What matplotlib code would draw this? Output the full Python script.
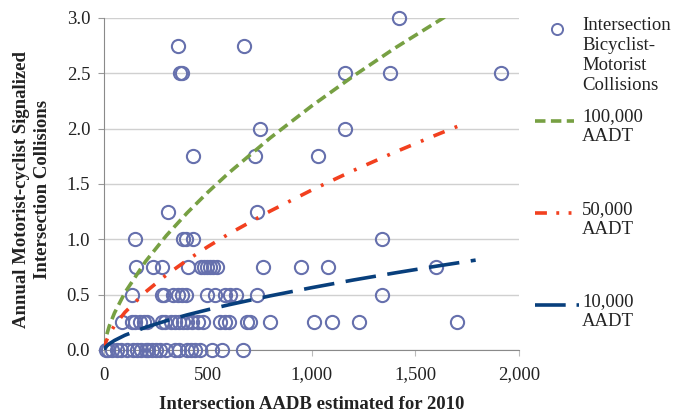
import matplotlib
matplotlib.use("Agg")
import matplotlib.pyplot as plt
from matplotlib.lines import Line2D
from matplotlib.ticker import FuncFormatter

# ---- data ----
pts_x = [1420,
         355, 675,
         365, 375, 1160, 1375, 1910,
         750, 1160,
         430, 725, 1030,
         310, 735,
         150, 380, 395, 430, 1340,
         155, 235, 280, 405, 465, 480, 495, 510, 525, 545, 765, 950, 1080, 1600,
         135, 280, 290, 330, 355, 375, 395, 495, 535, 580, 605, 635, 735, 1340,
         85, 135, 150, 175, 190, 205, 280, 295, 320, 340, 360, 380, 400, 425, 450,
         475, 560, 580, 600, 690, 705, 800, 1010, 1100, 1230, 1700,
         10, 20, 40, 60, 80, 110, 140, 160, 180, 200, 210, 230, 250, 270, 300,
         340, 360, 400, 420, 440, 460, 520, 570, 670]
pts_y = [3.0,
         2.75, 2.75,
         2.5, 2.5, 2.5, 2.5, 2.5,
         2.0, 2.0,
         1.75, 1.75, 1.75,
         1.25, 1.25,
         1.0, 1.0, 1.0, 1.0, 1.0,
         0.75, 0.75, 0.75, 0.75, 0.75, 0.75, 0.75, 0.75, 0.75, 0.75, 0.75, 0.75, 0.75, 0.75,
         0.5, 0.5, 0.5, 0.5, 0.5, 0.5, 0.5, 0.5, 0.5, 0.5, 0.5, 0.5, 0.5, 0.5,
         0.25, 0.25, 0.25, 0.25, 0.25, 0.25, 0.25, 0.25, 0.25, 0.25, 0.25, 0.25, 0.25, 0.25, 0.25,
         0.25, 0.25, 0.25, 0.25, 0.25, 0.25, 0.25, 0.25, 0.25, 0.25, 0.25,
         0, 0, 0, 0, 0, 0, 0, 0, 0, 0, 0, 0, 0, 0, 0,
         0, 0, 0, 0, 0, 0, 0, 0, 0]

aadt100_x = [0, 5, 10, 25, 50, 100, 200, 300, 400, 500, 600, 800, 1000, 1200, 1400, 1660]
aadt100_y = [0, 0.078, 0.121, 0.216, 0.334, 0.517, 0.800, 1.033, 1.238, 1.425, 1.598,
             1.915, 2.204, 2.473, 2.726, 3.03]
aadt50_x = [0, 5, 10, 25, 50, 100, 200, 300, 400, 500, 600, 800, 1000, 1200, 1400, 1600, 1740]
aadt50_y = [0, 0.051, 0.079, 0.141, 0.219, 0.339, 0.524, 0.677, 0.811, 0.933, 1.047,
            1.254, 1.444, 1.620, 1.786, 1.942, 2.048]
aadt10_x = [0, 5, 10, 25, 50, 100, 200, 300, 400, 500, 600, 800, 1000, 1200, 1400, 1600, 1790]
aadt10_y = [0, 0.020, 0.031, 0.055, 0.085, 0.132, 0.204, 0.263, 0.316, 0.363, 0.407,
            0.488, 0.562, 0.631, 0.695, 0.756, 0.811]

x_ticks = [0, 500, 1000, 1500, 2000]
y_ticks = [0.0, 0.5, 1.0, 1.5, 2.0, 2.5, 3.0]

legend_labels = ["Intersection\nBicyclist-\nMotorist\nCollisions",
                 "100,000\nAADT", "50,000\nAADT", "10,000\nAADT"]

# ---- styles ----
plt.rcParams['font.family'] = ['Liberation Serif', 'DejaVu Serif']
MARKER_C = '#6670ad'
GREEN = '#77a043'
RED = '#f2401f'
BLUE = '#083f7c'
LW = 2.6
green_dash = (0, (2.9, 1.5))
red_dash = (0, (3.3, 3.0, 0.8, 3.0))
blue_dash = (0, (8.5, 3.2))
FS = 13.5

fig = plt.figure(figsize=(6.85, 4.16), dpi=100)
ax = fig.add_axes([0.152, 0.159, 0.606, 0.798])

ax.plot(pts_x, pts_y, linestyle='none', marker='o', markersize=9.5,
        markerfacecolor='none', markeredgecolor=MARKER_C, markeredgewidth=1.5,
        clip_on=False, zorder=3)
ax.plot(aadt100_x, aadt100_y, color=GREEN, lw=LW, linestyle=green_dash,
        dash_capstyle='butt', zorder=4)
ax.plot(aadt50_x, aadt50_y, color=RED, lw=LW, linestyle=red_dash,
        dash_capstyle='butt', zorder=4)
ax.plot(aadt10_x, aadt10_y, color=BLUE, lw=LW, linestyle=blue_dash,
        dash_capstyle='butt', zorder=4)

ax.set_xlim(0, 2000)
ax.set_ylim(0, 3.0)
ax.set_xticks(x_ticks)
ax.set_yticks(y_ticks)
ax.xaxis.set_major_formatter(FuncFormatter(lambda v, p: f"{int(v):,}"))
ax.yaxis.set_major_formatter(FuncFormatter(lambda v, p: f"{v:.1f}"))
ax.tick_params(axis='both', labelsize=FS, colors='#222222', length=4,
               width=0.8, direction='out')
ax.tick_params(axis='x', pad=8, color='#bbbbbb')
ax.tick_params(axis='y', pad=6, color='#999999')
ax.grid(axis='y', color='#d0d0d0', lw=1.0)
ax.set_axisbelow(True)
for s in ['top', 'right']:
    ax.spines[s].set_visible(False)
ax.spines['left'].set_color('#8a8a8a')
ax.spines['bottom'].set_color('#8a8a8a')

ax.set_xlabel("Intersection AADB estimated for 2010", fontsize=FS,
              fontweight='bold', labelpad=9, color='#222222')
fig.text(0.047, 0.545, "Annual Motorist-cyclist Signalized\nIntersection Collisions",
         rotation=90, ha='center', va='center', fontsize=FS, fontweight='bold',
         color='#222222', linespacing=1.3)

# ---- legend (manual placement) ----
def fx(px):
    return px / 685.0

def fy(py):
    return 1 - py / 416.0

fig.add_artist(Line2D([fx(557)], [fy(29)], marker='o', markersize=8,
                      markerfacecolor='none', markeredgecolor=MARKER_C,
                      markeredgewidth=1.4, linestyle='none'))
fig.add_artist(Line2D([fx(535), fx(574)], [fy(121), fy(121)], color=GREEN, lw=LW,
                      linestyle=green_dash, dash_capstyle='butt'))
fig.add_artist(Line2D([fx(535), fx(579)], [fy(213), fy(213)], color=RED, lw=LW,
                      linestyle=(0, (3.3, 2.6, 0.8, 2.6, 0.8, 3)), dash_capstyle='butt'))
fig.add_artist(Line2D([fx(535), fx(579)], [fy(305), fy(305)], color=BLUE, lw=LW,
                      linestyle=(0, (8.5, 3.0, 0.8, 3)), dash_capstyle='butt'))

first_line_y = [29, 120, 213, 305]
for lab, py in zip(legend_labels, first_line_y):
    fig.text(fx(582), fy(py - 11.5), lab, ha='left', va='top', fontsize=FS,
             color='#222222', linespacing=1.22)

fig.savefig("out.png", dpi=100)
